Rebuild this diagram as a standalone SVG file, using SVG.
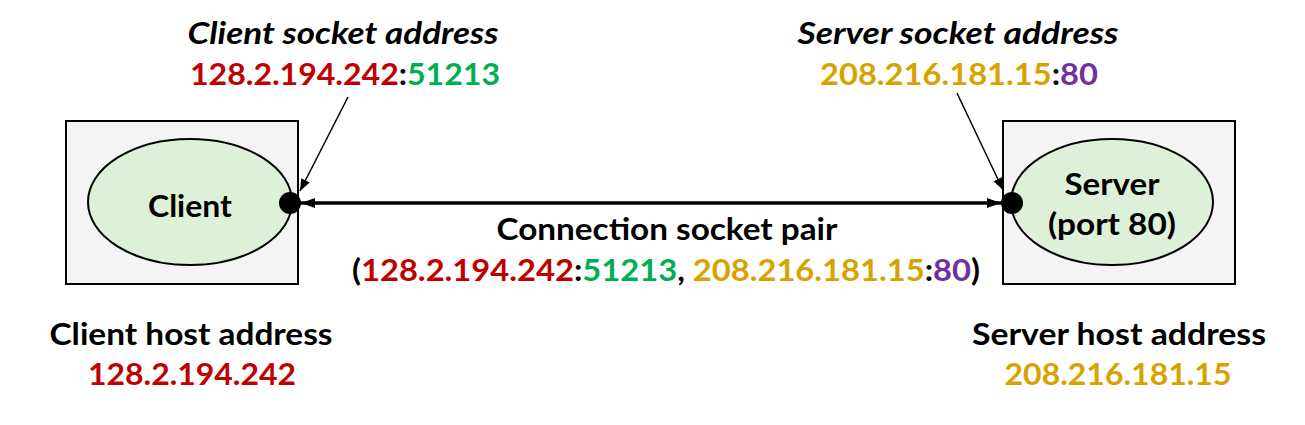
<svg xmlns="http://www.w3.org/2000/svg" width="1305" height="425" viewBox="0 0 1305 425">
<style>
text{font-family:"Lato","Open Sans","Liberation Sans",sans-serif;font-weight:bold;font-size:30px;text-anchor:middle;fill:#000}
.it{font-style:italic}
.r{fill:#C00000}.g{fill:#00B050}.y{fill:#D8A300}.p{fill:#7030A0}
.box{fill:#F4F4F4;stroke:#000;stroke-width:2}
.ell{fill:#DDF0D8;stroke:#000;stroke-width:2}
.ptr{stroke:#000;stroke-width:1.5;fill:none}
</style>
<defs>
<marker id="ah2" viewBox="0 0 10 10" refX="10" refY="5" markerWidth="12" markerHeight="12" orient="auto" markerUnits="userSpaceOnUse">
<path d="M0,1 L10,5 L0,9 z" fill="#000"/>
</marker>
<marker id="ah3" viewBox="0 0 10 10" refX="10" refY="5" markerWidth="14" markerHeight="14" orient="auto-start-reverse" markerUnits="userSpaceOnUse">
<path d="M0,1.5 L10,5 L0,8.5 z" fill="#000"/>
</marker>
</defs>
<g id="client-host">
<rect class="box" x="66" y="121" width="232" height="163"/>
<ellipse class="ell" cx="190" cy="202" rx="102" ry="63"/>
<text x="190" y="217" textLength="84" lengthAdjust="spacingAndGlyphs">Client</text>
<circle cx="290" cy="203" r="11" fill="#000"/>
</g>
<g id="server-host">
<rect class="box" x="1003" y="121" width="232" height="163"/>
<ellipse class="ell" cx="1112" cy="202" rx="101" ry="63"/>
<text x="1112" y="195" textLength="95" lengthAdjust="spacingAndGlyphs">Server</text>
<text x="1112" y="235" textLength="128" lengthAdjust="spacingAndGlyphs">(port 80)</text>
<circle cx="1012" cy="203" r="11" fill="#000"/>
</g>
<g id="client-socket-label">
<text class="it" x="343" y="44" textLength="311" lengthAdjust="spacingAndGlyphs">Client socket address</text>
<text x="345" y="85" textLength="310" lengthAdjust="spacingAndGlyphs"><tspan class="r">128.2.194.242</tspan>:<tspan class="g">51213</tspan></text>
</g>
<g id="server-socket-label">
<text class="it" x="958" y="44" textLength="321" lengthAdjust="spacingAndGlyphs">Server socket address</text>
<text x="959" y="85" textLength="278" lengthAdjust="spacingAndGlyphs"><tspan class="y">208.216.181.15</tspan>:<tspan class="p">80</tspan></text>
</g>
<g id="pair-label">
<text x="667" y="240" textLength="341" lengthAdjust="spacingAndGlyphs">Connection socket pair</text>
<text x="666" y="281" textLength="628" lengthAdjust="spacingAndGlyphs">(<tspan class="r">128.2.194.242</tspan>:<tspan class="g">51213</tspan>, <tspan class="y">208.216.181.15</tspan>:<tspan class="p">80</tspan>)</text>
</g>
<g id="client-host-label">
<text x="191" y="345" textLength="283" lengthAdjust="spacingAndGlyphs">Client host address</text>
<text class="r" x="192" y="385" textLength="208" lengthAdjust="spacingAndGlyphs">128.2.194.242</text>
</g>
<g id="server-host-label">
<text x="1119" y="345" textLength="294" lengthAdjust="spacingAndGlyphs">Server host address</text>
<text class="y" x="1118" y="385" textLength="227" lengthAdjust="spacingAndGlyphs">208.216.181.15</text>
</g>
<g id="connectors">
<line x1="301" y1="203" x2="1001" y2="203" stroke="#000" stroke-width="3.5" marker-start="url(#ah3)" marker-end="url(#ah3)"/>
<line class="ptr" x1="348" y1="97" x2="300" y2="191" marker-end="url(#ah2)"/>
<line class="ptr" x1="957" y1="93" x2="1003" y2="190" marker-end="url(#ah2)"/>
</g>
</svg>
